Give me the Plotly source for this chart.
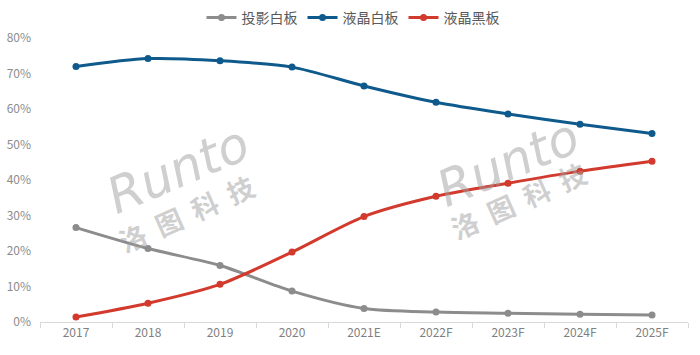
import plotly.graph_objects as go

years = ["2017", "2018", "2019", "2020", "2021E", "2022F", "2023F", "2024F", "2025F"]
projector = [26.6, 20.7, 15.9, 8.7, 3.8, 2.8, 2.5, 2.2, 2.0]
lcd_white = [72.0, 74.2, 73.6, 71.8, 66.5, 61.9, 58.6, 55.7, 53.1]
lcd_black = [1.4, 5.3, 10.6, 19.7, 29.7, 35.4, 39.1, 42.5, 45.3]
names = ["投影白板", "液晶白板", "液晶黑板"]
colors = ["#8c8c8c", "#0f5a8c", "#d13a2c"]
yticks = [0, 10, 20, 30, 40, 50, 60, 70, 80]

fig = go.Figure()
for name, vals, col in zip(names, [projector, lcd_white, lcd_black], colors):
    fig.add_trace(go.Scatter(
        x=years, y=vals, name=name, mode="lines+markers",
        line=dict(color=col, width=3, shape="spline", smoothing=0.8),
        marker=dict(color=col, size=7),
    ))

W, H = 700, 355
L, R, T, B = 40, 12, 37.5, 33
pw, ph = W - L - R, H - T - B

def px(x, y):
    return (x - L) / pw, (H - B - y) / ph

wm_color = "rgba(160,160,160,0.5)"
ann = []
for (rx, ry), (cx, cy) in [((178, 170), (186, 213)), ((508, 163), (518, 200))]:
    ax, ay = px(rx, ry)
    ann.append(dict(text="<i>Runto</i>", x=ax, y=ay, xref="paper", yref="paper",
                    xanchor="center", yanchor="middle",
                    showarrow=False, textangle=-23,
                    font=dict(family="DejaVu Sans", size=50, color=wm_color)))
    bx, by = px(cx, cy)
    ann.append(dict(text="<b>洛  图  科  技</b>", x=bx, y=by, xref="paper", yref="paper",
                    xanchor="center", yanchor="middle",
                    showarrow=False, textangle=-24,
                    font=dict(family="Noto Sans CJK SC", size=27, color=wm_color)))

lx, _ = px(353, 0)
fig.update_layout(
    width=W, height=H, autosize=False,
    margin=dict(l=L, r=R, t=T, b=B, autoexpand=False),
    plot_bgcolor="white", paper_bgcolor="white",
    font=dict(family="Noto Sans CJK SC", color="#7f7f7f", size=12),
    legend=dict(orientation="h", x=lx, xanchor="center", y=1 - 18 / H, yanchor="middle",
                yref="container", font=dict(size=14, color="#595959"),
                itemwidth=30, traceorder="normal"),
    xaxis=dict(type="category", range=[-0.5, 8.5], showgrid=False, automargin=False,
               showline=True, linecolor="#d9d9d9", linewidth=1,
               ticks="outside", tickson="boundaries", ticklen=5, tickcolor="#d9d9d9",
               tickfont=dict(size=12, color="#7f7f7f")),
    yaxis=dict(range=[0, 80], tickvals=yticks, ticktext=[f"{v}%" for v in yticks],
               showgrid=False, zeroline=False, showline=False, automargin=False,
               ticklabelstandoff=8, tickfont=dict(size=12, color="#8c8c8c")),
    annotations=ann,
    showlegend=True,
)

fig.write_html(
    "out.html",
    config={"responsive": False, "displayModeBar": False},
    post_script="document.body.style.margin='0';document.body.style.overflow='hidden';"
                "Plotly.relayout('{plot_id}', {width: 700, height: 355});",
)
